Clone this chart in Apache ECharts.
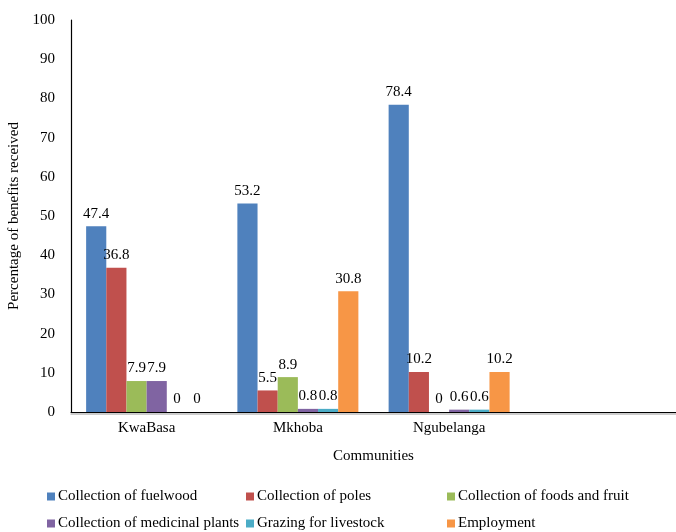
<!DOCTYPE html>
<html>
<head>
<meta charset="utf-8">
<script src="https://cdn.jsdelivr.net/npm/echarts@6/dist/echarts.min.js"></script>
<style>
  html, body { margin: 0; padding: 0; background: #fff; }
  #chart { width: 676px; height: 532px; }
</style>
</head>
<body>
<div id="chart"></div>
<script>
// communities (4th slot is empty in the original)
const communities = ['KwaBasa', 'Mkhoba', 'Ngubelanga', ''];
const fuelwood  = [47.4, 53.2, 78.4, null];
const poles     = [36.8, 5.5, 10.2, null];
const foods     = [7.9, 8.9, 0, null];
const medicinal = [7.9, 0.8, 0.6, null];
const grazing   = [0, 0.8, 0.6, null];
const employment = [0, 30.8, 10.2, null];
const yTicks = [0, 10, 20, 30, 40, 50, 60, 70, 80, 90, 100];

const seriesNames = ['Collection of fuelwood', 'Collection of poles', 'Collection of foods and fruit',
  'Collection of medicinal plants', 'Grazing for livestock', 'Employment'];
const seriesData = [fuelwood, poles, foods, medicinal, grazing, employment];
const colors = ['#4F81BD', '#C0504D', '#9BBB59', '#8064A2', '#4BACC6', '#F79646'];

const font = 'Liberation Serif';
const fs = 15;
const myChart = echarts.init(document.getElementById('chart'));

// one legend per item so the columns line up like the original
const legendPos = [[47, 489], [246, 489], [447, 489], [47, 516], [246, 516], [447, 516]];
const legends = seriesNames.map((name, i) => ({
  data: [name],
  left: legendPos[i][0],
  top: legendPos[i][1],
  itemWidth: 8,
  itemHeight: 8,
  itemGap: 0,
  icon: 'rect',
  padding: 0,
  textStyle: { fontFamily: font, fontSize: fs, color: '#000', padding: [0, 0, 0, -2] }
}));

const option = {
  color: colors,
  animation: false,
  grid: { left: 71, right: 0, top: 20, bottom: 120, outerBoundsMode: 'none', containLabel: false },
  legend: legends,
  xAxis: {
    type: 'category',
    data: communities,
    name: 'Communities',
    nameLocation: 'middle',
    nameGap: 37,
    nameTextStyle: { fontFamily: font, fontSize: fs, color: '#000' },
    axisLine: { lineStyle: { color: '#000', width: 1.2, shadowColor: '#999', shadowOffsetY: 1.5 } },
    axisTick: { show: false },
    axisLabel: { fontFamily: font, fontSize: fs, color: '#000', margin: 9 }
  },
  yAxis: {
    type: 'value',
    min: 0,
    max: 100,
    interval: 10,
    name: 'Percentage of benefits received',
    nameLocation: 'middle',
    nameGap: 46,
    nameTextStyle: { fontFamily: font, fontSize: fs, color: '#000' },
    axisLine: { show: true, lineStyle: { color: '#000', width: 1.2 } },
    axisTick: { show: false },
    splitLine: { show: false },
    axisLabel: {
      fontFamily: font, fontSize: fs, color: '#000', margin: 16,
      formatter: v => yTicks.includes(v) ? String(v) : ''
    }
  },
  series: seriesNames.map((name, i) => ({
    name: name,
    type: 'bar',
    data: seriesData[i],
    barGap: 0,
    barCategoryGap: '20%',
    label: {
      show: true,
      position: 'top',
      distance: 5,
      fontFamily: font,
      fontSize: fs,
      color: '#000'
    }
  }))
};
myChart.setOption(option);
</script>
</body>
</html>
